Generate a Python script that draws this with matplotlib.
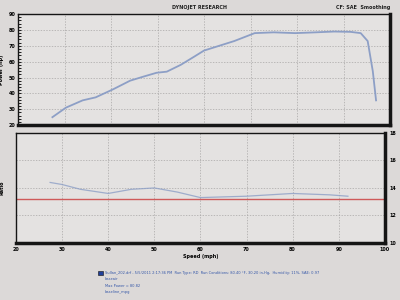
import numpy as np
import matplotlib.pyplot as plt
from matplotlib.ticker import MultipleLocator

# power run (speed mph, hp)
speed_pw = [27.4, 30.3, 33.9, 36.7, 40.4, 44.1, 47.0, 49.8, 52.0, 55.0, 57.8, 60.0,
            66.5, 70.9, 75.0, 79.6, 84.0, 88.0, 91.5, 93.7, 95.2, 96.3, 97.0]
power_hp = [25.0, 31.0, 35.6, 37.5, 42.5, 48.0, 50.6, 53.0, 53.7, 58.0, 63.0, 67.0,
            73.0, 78.0, 78.5, 78.0, 78.5, 79.0, 78.8, 78.0, 73.0, 54.0, 35.6]

# air/fuel ratio trace
speed_afr = [27.4, 30.0, 34.0, 40.0, 45.0, 50.0, 55.0, 60.0, 70.0, 80.0, 88.0, 92.0]
afr = [14.4, 14.25, 13.9, 13.6, 13.9, 14.0, 13.7, 13.3, 13.4, 13.6, 13.5, 13.4]
afr_target = 13.2

paper = '#dcd9d8'
inner = '#e4e2e1'
blue = '#8d9fc6'
red = '#cf5a5a'

fig = plt.figure(figsize=(4, 3), dpi=100, facecolor=paper)

# ---- top: power ----
ax1 = fig.add_axes([0.045, 0.583, 0.930, 0.370], facecolor=inner)
ax1.plot(speed_pw, power_hp, color=blue, lw=1.3)
ax1.set_xlim(20, 100)
ax1.set_ylim(20, 90)
ax1.xaxis.set_major_locator(MultipleLocator(10))
ax1.yaxis.set_major_locator(MultipleLocator(10))
ax1.yaxis.set_minor_locator(MultipleLocator(2))
ax1.grid(True, color='#a8a6a6', ls=(0, (2, 2)), lw=0.5)
ax1.tick_params(axis='x', labelbottom=False, length=0)
ax1.tick_params(axis='y', which='both', direction='in', labelsize=3.5, pad=2,
                length=2, width=0.6)
for t in ax1.get_yticklabels():
    t.set_fontweight('bold')
ax1.set_ylabel('Power (hp)', fontsize=3.5, fontweight='bold', labelpad=3)
for s, w in [('left', 1.0), ('top', 1.0), ('bottom', 2.5), ('right', 2.5)]:
    ax1.spines[s].set_linewidth(w)
    ax1.spines[s].set_color('#151515')

# ---- bottom: ratio ----
ax2 = fig.add_axes([0.040, 0.190, 0.922, 0.367], facecolor=inner)
ax2.plot(speed_afr, afr, color=blue, lw=0.9, alpha=0.8)
ax2.axhline(afr_target, color=red, lw=1.0)
ax2.set_xlim(20, 100)
ax2.set_ylim(10, 18)
ax2.xaxis.set_major_locator(MultipleLocator(10))
ax2.yaxis.set_major_locator(MultipleLocator(2))
ax2.grid(True, color='#a8a6a6', ls=(0, (2, 2)), lw=0.5)
ax2.yaxis.tick_right()
ax2.tick_params(axis='y', labelsize=3.5, length=0, pad=3)
ax2.tick_params(axis='x', labelsize=3.5, length=0, pad=3)
for t in ax2.get_yticklabels() + ax2.get_xticklabels():
    t.set_fontweight('bold')
ax2.set_ylabel('Ratio', fontsize=3.5, fontweight='bold', labelpad=8)
ax2.set_xlabel('Speed (mph)', fontsize=3.5, fontweight='bold', labelpad=1)
for s, w in [('left', 1.0), ('top', 1.0), ('bottom', 2.5), ('right', 2.5)]:
    ax2.spines[s].set_linewidth(w)
    ax2.spines[s].set_color('#151515')

# header
fig.text(0.50, 0.975, 'DYNOJET RESEARCH', fontsize=3.5, fontweight='bold',
         ha='center', va='center', color='#202020')
fig.text(0.975, 0.975, 'CF: SAE  Smoothing', fontsize=3.5, fontweight='bold',
         ha='right', va='center', color='#202020')

# legend block
fig.patches.append(plt.Rectangle((0.245, 0.082), 0.012, 0.016, transform=fig.transFigure,
                                 facecolor='#1f3f9a', edgecolor='#101010', lw=0.4))
lines = ['Sullan_202.drf - 5/5/2011 2:17:36 PM  Run Type: RD  Run Conditions: 80.40 \u00b0F, 30.20 in-Hg,  Humidity: 11%, SAE: 0.97',
         'baseair',
         'Max Power = 80.82',
         'baseline_mpg']
for i, ln in enumerate(lines):
    fig.text(0.262, 0.090 - i * 0.021, ln, fontsize=2.6, color='#3557a8',
             ha='left', va='center')

fig.savefig('out.png', dpi=100, facecolor=paper)
